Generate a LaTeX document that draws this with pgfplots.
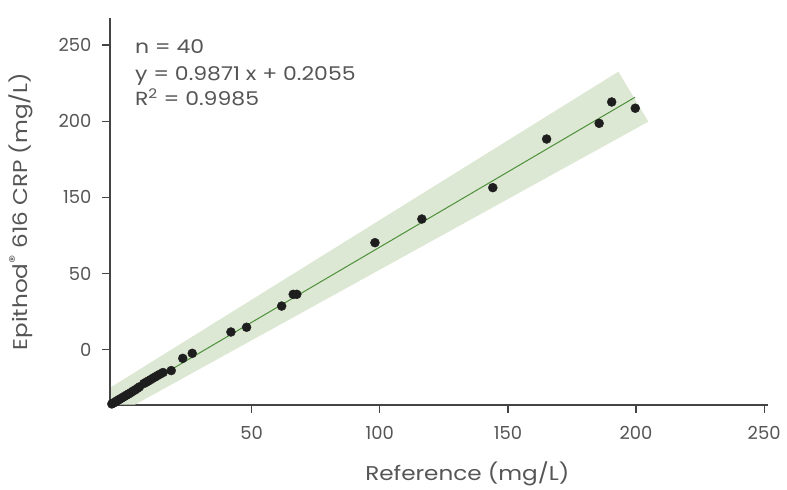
\documentclass[border=0pt]{standalone}
\usepackage{pgfplots}
\pgfplotsset{compat=1.18}
\usepackage{fontspec}
\setmainfont{Poppins}[FakeStretch=1.16]
\newfontfamily\tickfont{Poppins}
\definecolor{txt}{HTML}{555555}
\definecolor{axc}{HTML}{444444}
\definecolor{band}{HTML}{DCE8D3}
\definecolor{fitc}{HTML}{4E8F3A}
\definecolor{dot}{HTML}{1E1E1E}
\begin{document}
\begin{tikzpicture}
\useasboundingbox (-110bp,-85bp) rectangle (677bp,405bp);
\begin{axis}[
  at={(0,0)}, anchor=south west,
  scale only axis, width=658bp, height=387bp,
  xmin=-5.3, xmax=251.5, ymin=-4.7, ymax=249.2,
  axis x line=bottom, axis y line=left,
  axis line style={-, axc, line width=1.3bp},
  tick style={axc, line width=1.2bp},
  tick align=outside, major tick length=8bp,
  xtick={50,100,150,200,250}, xticklabels={50,100,150,200,250},
  ytick={31.5,81.5,131.5,181.5,231.5}, yticklabels={0,50,150,200,250},
  /pgf/number format/assume math mode=true,
  tick label style={font=\tickfont\fontsize{18}{22}\selectfont, text=txt},
  xticklabel style={yshift=-10bp},
  yticklabel style={xshift=-7bp},
  xlabel={Reference (mg/L)},
  ylabel={Epithod\textsuperscript{\textregistered} 616 CRP (mg/L)},
  label style={font=\fontsize{20}{24}\selectfont, text=txt},
  xlabel style={at={(axis description cs:0.543,0)}, anchor=base, yshift=-75bp},
  ylabel style={at={(axis description cs:0,0.5)}, anchor=south, yshift=74bp},
  clip=true,
]
\addplot[draw=none, fill=band] coordinates {
  (-4.9,7.0) (193.1,214.0) (204.8,181.2) (4.41,-4.5) (-4.9,-4.5)} -- cycle;
\addplot[fitc, line width=1bp] coordinates {(-5.3,-5.03) (199.6,197.2)};
\addplot[only marks, mark=*, mark size=4.5bp, color=dot] coordinates {
  (-4.6,-4.0) (-4.0,-3.4) (-3.4,-2.9) (-2.8,-2.2) (-2.2,-1.6) (-1.6,-1.0)
  (-1.0,-0.4) (-0.3,0.3) (0.4,1.0) (1.2,1.8) (2.0,2.6) (2.8,3.4)
  (3.6,4.3) (4.5,5.2) (5.4,6.2) (6.2,7.2)
  (7.9,9.4) (8.8,10.2) (9.6,11.0) (10.5,11.9) (11.4,12.8) (12.3,13.7)
  (13.2,14.6) (14.2,15.5) (15.4,16.6) (18.6,17.9)
  (23.1,25.9) (26.8,29.2) (41.9,43.2) (48.0,46.3) (61.7,60.2) (66.2,67.9)
  (67.6,67.9) (98.1,101.8) (116.4,117.3) (144.1,137.9) (165.1,169.8)
  (185.6,180.1) (190.5,194.1) (199.7,190.0)};
\node[anchor=base west, text=txt, font=\fontsize{19}{22}\selectfont, inner sep=0pt] at (axis cs:4.4,226.2) {n = 40};
\node[anchor=base west, text=txt, font=\fontsize{19}{22}\selectfont, inner sep=0pt] at (axis cs:4.4,208.5) {y = 0.9871 x + 0.2055};
\node[anchor=base west, text=txt, font=\fontsize{19}{22}\selectfont, inner sep=0pt] at (axis cs:4.4,192.1) {R\textsuperscript{2} = 0.9985};
\end{axis}
\end{tikzpicture}
\end{document}
